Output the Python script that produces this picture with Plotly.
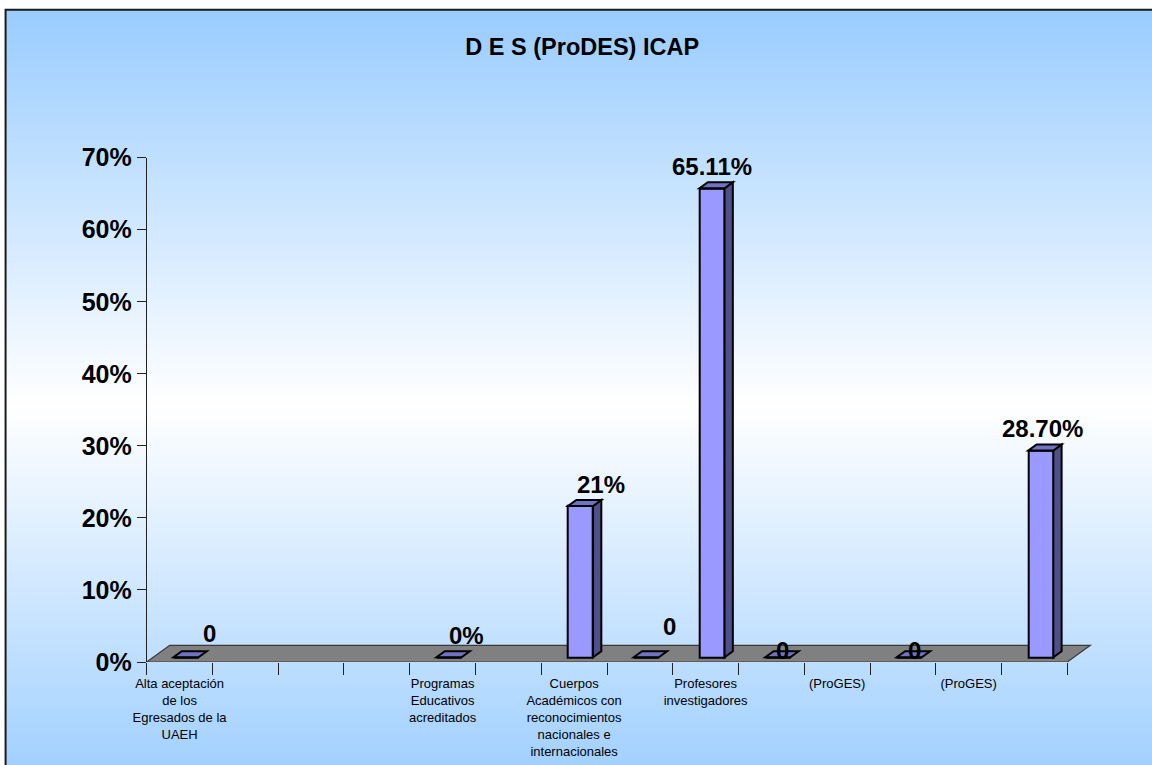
import base64
import struct
import zlib
import plotly.graph_objects as go

# ---------------- data ----------------
categories = [
    "Alta aceptación<br>de los<br>Egresados de la<br>UAEH", "", "", "",
    "Programas<br>Educativos<br>acreditados", "",
    "Cuerpos<br>Académicos con<br>reconocimientos<br>nacionales e<br>internacionales", "",
    "Profesores<br>investigadores", "",
    "(ProGES)", "",
    "(ProGES)", "",
]
values = [0, None, None, None, 0, None, 0.21, 0, 0.6511, 0, None, 0, None, 0.287]
value_labels = ["0", "", "", "", "0%", "", "21%", "0", "65.11%", "0", "", "0", "", "28.70%"]
y_tick_values = [0, 0.1, 0.2, 0.3, 0.4, 0.5, 0.6, 0.7]
title_text = "D E S (ProDES) ICAP"

# ---------------- layout geometry (viewport pixels) ----------------
W, H = 1152, 765
OFF = 0                     # page body margin removed by post_script
ML, MT = 5, 9               # chart frame at viewport 5 / 9
X0_PX, CAT_PX = 146.7, 65.757          # viewport x of x=0, width of one category
Y0_PX, Y70_PX = 662.0, 157.7           # viewport y of 0% and 70%
PX_Y = (Y0_PX - Y70_PX) / 0.7
X_MAX = 14.4
n_cat = len(categories)

PW, PH = W - ML, H - MT                 # plot area size in figure px
dom_x = [(X0_PX - OFF - ML) / PW, (X0_PX - OFF + X_MAX * CAT_PX - ML) / PW]
dom_y = [(H - (Y0_PX - OFF)) / PH, (H - (Y70_PX - OFF)) / PH]

# 3D depth parameters (converted to data units)
bar_dx = 6.4 / CAT_PX
bar_base = 4.7 / PX_Y
bar_w = 25.0 / CAT_PX
ddx, ddy = 8.3 / CAT_PX, 6.0 / PX_Y
fdx, fdy = 23.0 / CAT_PX, 16.7 / PX_Y

# label nudges (pixels) : styling only
label_nudge = {0: (23.5, 2.8), 4: (17.3, 0.3), 6: (20.5, 0), 7: (23.7, 9.5),
               8: (0, 0), 9: (4.7, -14.5), 11: (5.4, -14.5), 13: (1.4, 1)}

FRONT = "#9999FF"
SIDE = "#4F4F8A"
TOP = "#7272C4"
FONT = "Liberation Sans, Arial, sans-serif"

# ---------------- gradient background image ----------------
def gradient_png(height, top_px):
    blue = (153, 204, 255)
    center, half = 405.0, 396.0
    rows = []
    for r in range(height):
        ypx = top_px + r
        t = min(1.0, abs(ypx - center) / half)
        col = tuple(int(round(255 + (b - 255) * t)) for b in blue)
        rows.append(b"\x00" + bytes(col * 2))
    raw = b"".join(rows)

    def chunk(tag, data):
        c = struct.pack(">I", len(data)) + tag + data
        return c + struct.pack(">I", zlib.crc32(tag + data) & 0xFFFFFFFF)

    png = b"\x89PNG\r\n\x1a\n"
    png += chunk(b"IHDR", struct.pack(">IIBBBBB", 2, height, 8, 2, 0, 0, 0))
    png += chunk(b"IDAT", zlib.compress(raw, 9))
    png += chunk(b"IEND", b"")
    return "data:image/png;base64," + base64.b64encode(png).decode()

# ---------------- figure ----------------
bx, by = [], []
for i, v in enumerate(values):
    if v is None:
        continue
    bx.append(i + 0.5 + bar_dx)
    by.append(v)

fig = go.Figure()
fig.add_trace(go.Bar(
    x=bx, y=by, base=bar_base, width=bar_w,
    marker=dict(color=FRONT, line=dict(color="black", width=2)),
    hoverinfo="skip", showlegend=False,
))

shapes = []
# floor
shapes.append(dict(
    type="path", xref="x", yref="y", layer="below",
    path=f"M 0,0 L {n_cat},0 L {n_cat + fdx},{fdy} L {fdx},{fdy} Z",
    fillcolor="#808080", line=dict(color="#3a3a3a", width=1.2),
))
annotations = []
for i, v in enumerate(values):
    if v is None:
        continue
    xc = i + 0.5 + bar_dx
    xl, xr = xc - bar_w / 2, xc + bar_w / 2
    y0, y1 = bar_base, bar_base + v
    if v > 0:
        shapes.append(dict(
            type="path", xref="x", yref="y", layer="above",
            path=f"M {xr},{y0} L {xr},{y1} L {xr + ddx},{y1 + ddy} L {xr + ddx},{y0 + ddy} Z",
            fillcolor=SIDE, line=dict(color="black", width=2),
        ))
    shapes.append(dict(
        type="path", xref="x", yref="y", layer="above",
        path=f"M {xl},{y1} L {xr},{y1} L {xr + ddx},{y1 + ddy} L {xl + ddx},{y1 + ddy} Z",
        fillcolor=TOP, line=dict(color="black", width=2),
    ))
    if value_labels[i]:
        nx, ny = label_nudge.get(i, (0, 0))
        annotations.append(dict(
            x=xc, y=y1, xref="x", yref="y", text=f"<b>{value_labels[i]}</b>",
            showarrow=False, xanchor="center", yanchor="middle",
            xshift=nx, yshift=21.5 + ny,
            font=dict(family=FONT, size=24, color="black"),
        ))

# chart border (right and bottom edges lie outside the picture)
shapes.append(dict(type="rect", xref="paper", yref="paper", x0=0.0005, x1=1.05, y0=-0.05, y1=0.999,
                   line=dict(color="#1a1a1a", width=2), fillcolor="rgba(0,0,0,0)", layer="above"))

label_idx = [i for i, c in enumerate(categories) if c]

fig.update_layout(
    width=W, height=H,
    margin=dict(l=ML, r=0, t=MT, b=0, pad=0, autoexpand=False),
    paper_bgcolor="white", plot_bgcolor="rgba(0,0,0,0)",
    title=dict(text=f"<b>{title_text}</b>", x=(582.2 - OFF) / W, xref="container", xanchor="center",
               y=1 - (46.5 - OFF) / H, yref="container", yanchor="middle",
               font=dict(family=FONT, size=23.5, color="black")),
    images=[dict(source=gradient_png(PH, MT + OFF), xref="paper", yref="paper",
                 x=0, y=1, sizex=1, sizey=1, xanchor="left", yanchor="top",
                 sizing="stretch", layer="below")],
    xaxis=dict(
        domain=dom_x, range=[0, X_MAX], showgrid=False, zeroline=False, showline=False,
        automargin=False,
        tickmode="array", tickvals=[i + 0.5 for i in label_idx],
        ticktext=[categories[i] for i in label_idx], ticks="",
        tickfont=dict(family=FONT, size=13, color="black"), ticklabelstandoff=12,
        minor=dict(ticks="outside", ticklen=12, tickcolor="#222", tickwidth=1,
                   tickmode="array", tickvals=list(range(n_cat + 1))),
        fixedrange=True,
    ),
    yaxis=dict(
        domain=dom_y, range=[0, 0.7], showgrid=False, zeroline=False,
        automargin=False,
        showline=True, linecolor="#222", linewidth=1,
        tickmode="array", tickvals=y_tick_values, tickformat=".0%",
        ticks="outside", ticklen=9, tickcolor="#222",
        tickfont=dict(family=FONT, size=25, color="black", weight="bold"),
        fixedrange=True,
    ),
    shapes=shapes, annotations=annotations,
    bargap=0, hovermode=False,
)

fig.write_html(
    "out.html",
    config={"displayModeBar": False},
    post_script="document.body.style.margin='0';document.body.style.overflow='hidden';",
)
